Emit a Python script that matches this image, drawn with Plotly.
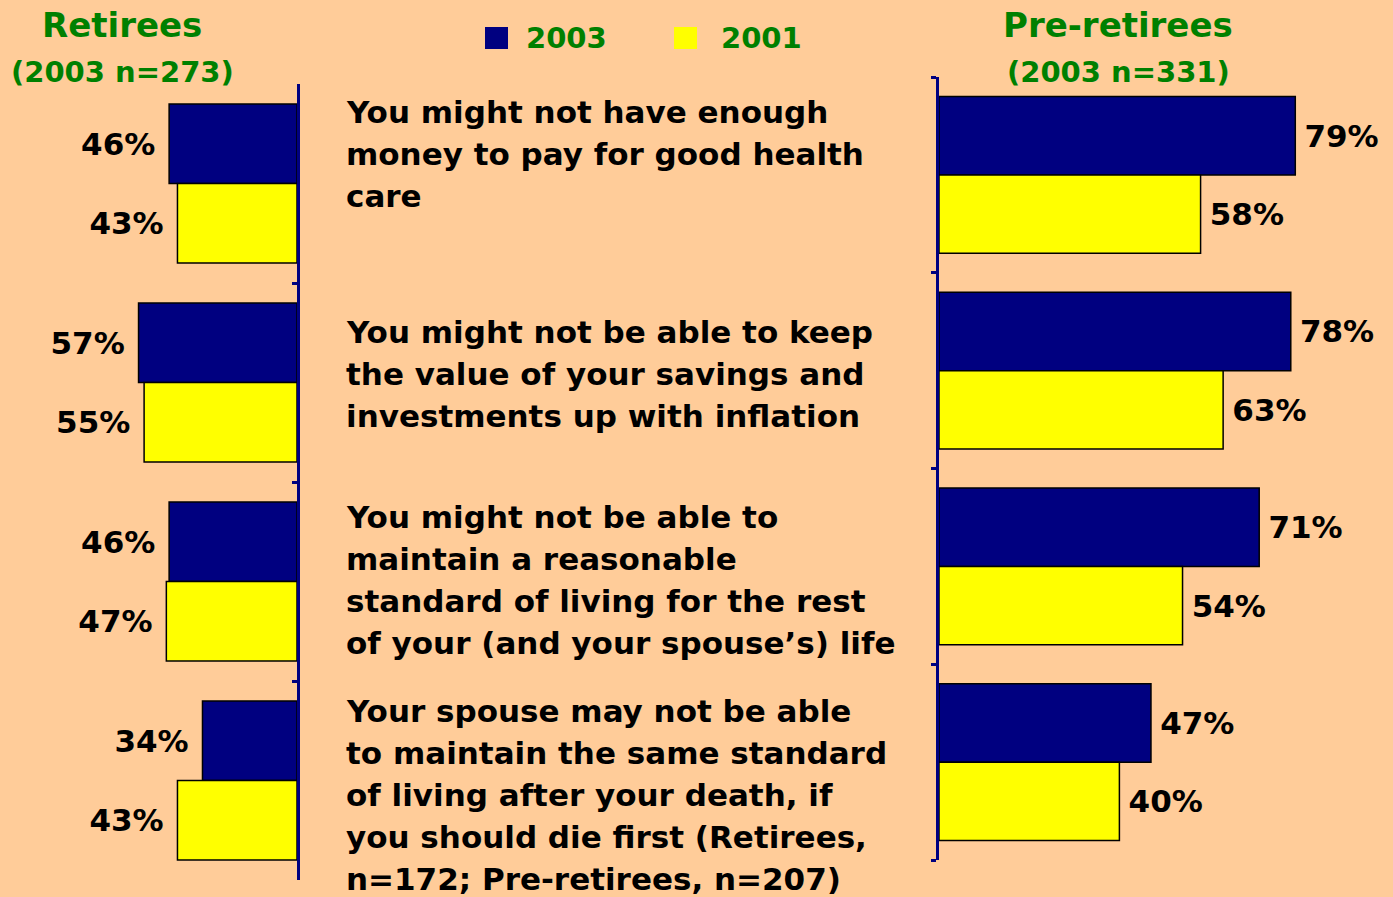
import plotly.graph_objects as go

W, H = 1393, 897

# ---- data ----
categories = [0, 1, 2, 3]
category_lines = [
    ["You might not have enough", "money to pay for good health", "care"],
    ["You might not be able to keep", "the value of your savings and", "investments up with inflation"],
    ["You might not be able to", "maintain a reasonable", "standard of living for the rest",
     "of your (and your spouse\u2019s) life"],
    ["Your spouse may not be able", "to maintain the same standard", "of living after your death, if",
     "you should die first (Retirees,", "n=172; Pre-retirees, n=207)"],
]
retirees_2003 = [46, 57, 46, 34]
retirees_2001 = [43, 55, 47, 43]
preretirees_2003 = [79, 78, 71, 47]
preretirees_2001 = [58, 63, 54, 40]
series_names = ["2003", "2001"]

# ---- styles ----
BG = "#FFCC99"
NAVY = "#000080"
YELLOW = "#FFFF00"
GREEN = "#008000"
FONT = "DejaVu Sans"

def px(x):
    return x / W

def py(y):
    return 1 - y / H

fig = go.Figure()

def add_bars(xvals, color, name, xa, ya, template):
    fig.add_trace(go.Bar(
        y=categories, x=xvals, orientation="h", name=name,
        marker=dict(color=color, line=dict(color="black", width=1.5)),
        texttemplate=template, textposition="outside", constraintext="none",
        textfont=dict(family=FONT, size=31, color="black", weight=700),
        cliponaxis=False, showlegend=False, xaxis=xa, yaxis=ya, hoverinfo="skip",
    ))

LEFT_TMPL = "%{x}%\u00a0"
RIGHT_TMPL = "\u2009%{x}%"
add_bars(retirees_2003, NAVY, series_names[0], "x", "y", LEFT_TMPL)
add_bars(retirees_2001, YELLOW, series_names[1], "x", "y", LEFT_TMPL)
add_bars(preretirees_2003, NAVY, series_names[0], "x2", "y2", RIGHT_TMPL)
add_bars(preretirees_2001, YELLOW, series_names[1], "x2", "y2", RIGHT_TMPL)

boundaries = [-0.5, 0.5, 1.5, 2.5, 3.5]

fig.update_layout(
    width=W, height=H, autosize=False,
    margin=dict(l=0, r=0, t=0, b=0),
    paper_bgcolor=BG, plot_bgcolor=BG,
    barmode="group", bargap=0.2, bargroupgap=0,
    xaxis=dict(domain=[px(19), px(297)], range=[100, 0], visible=False),
    yaxis=dict(domain=[py(880), py(84)], range=[3.5, -0.5], anchor="x", side="right",
               showline=True, linecolor=NAVY, linewidth=3, showgrid=False, zeroline=False,
               tickvals=boundaries, ticks="inside", ticklen=5, tickwidth=3, tickcolor=NAVY,
               showticklabels=False),
    xaxis2=dict(domain=[px(939), 1], range=[0, 454 / 4.51], visible=False, anchor="y2"),
    yaxis2=dict(domain=[py(860), py(77)], range=[3.5, -0.5], anchor="x2", side="left",
                showline=True, linecolor=NAVY, linewidth=3, showgrid=False, zeroline=False,
                tickvals=boundaries, ticks="outside", ticklen=5, tickwidth=3, tickcolor=NAVY,
                showticklabels=False),
)

annotations = []

def add_text(text, x, y, size, color, xanchor="center"):
    annotations.append(dict(
        text=text, x=px(x), y=py(y), xref="paper", yref="paper",
        xanchor=xanchor, yanchor="middle", showarrow=False,
        font=dict(family=FONT, size=size, color=color, weight=700),
    ))

# panel titles
add_text("Retirees", 122, 25, 34, GREEN)
add_text("(2003 n=273)", 122, 72, 29, GREEN)
add_text("Pre-retirees", 1118, 25, 34, GREEN)
add_text("(2003 n=331)", 1118, 72, 29, GREEN)

# category texts
line_starts = [112, 332, 517, 711]
for lines, y0 in zip(category_lines, line_starts):
    for i, line in enumerate(lines):
        add_text(line, 344, y0 + 42 * i, 31, "black", xanchor="left")

# legend
shapes = []
legend_items = [(series_names[0], NAVY, 485, 524), (series_names[1], YELLOW, 674, 719)]
for name, color, sx, tx in legend_items:
    shapes.append(dict(type="rect", xref="paper", yref="paper",
                       x0=px(sx), x1=px(sx + 23), y0=py(49), y1=py(27),
                       fillcolor=color, line=dict(width=0)))
    add_text(name, tx, 38, 29, GREEN, xanchor="left")

fig.update_layout(annotations=annotations, shapes=shapes)

fig.write_html("out.html", config={"displayModeBar": False},
               post_script="document.body.style.margin='0';document.body.style.background='" + BG + "';")
